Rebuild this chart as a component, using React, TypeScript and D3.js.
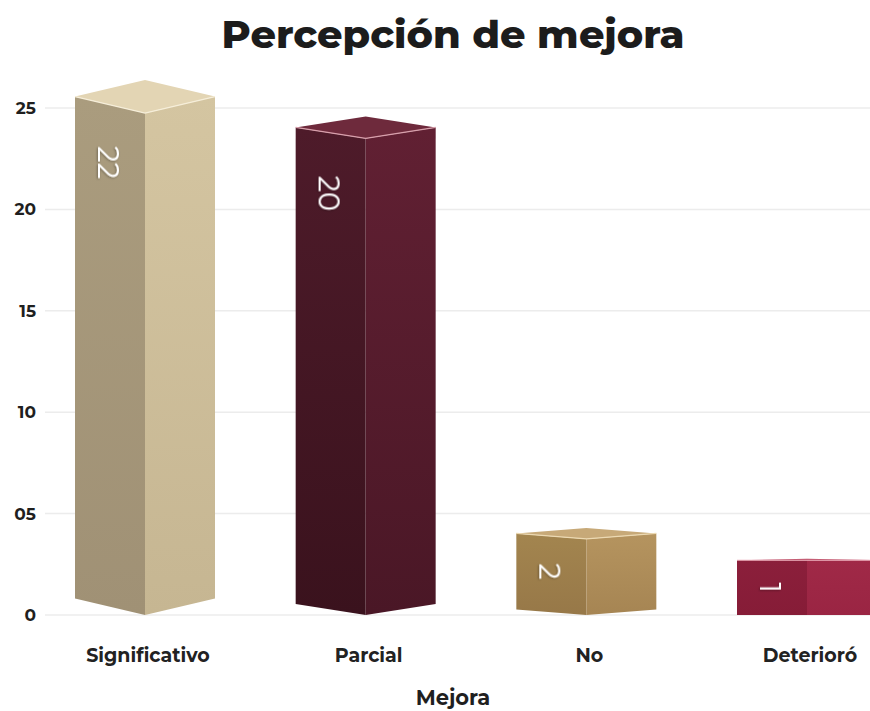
import React from "react";
import * as d3 from "d3";

// categories, shown counts, and bar heights as drawn against the axis
const categories = ["Significativo", "Parcial", "No", "Deterioró"];
const counts = [22, 20, 2, 1];
const heights = [24.75, 23.5, 3.75, 2.7];
const yTicks = [0, 5, 10, 15, 20, 25];
const tickLabels = ["0", "05", "10", "15", "20", "25"];

const palettes = [
  { l0: "#aa9c7e", l1: "#a09175", r0: "#d4c5a1", r1: "#c6b692", top: "#e3d5b4", edge: "#f6eed9" },
  { l0: "#4e1b2a", l1: "#3a121d", r0: "#612033", r1: "#4a1726", top: "#6e2a3c", edge: "#d8a0ac" },
  { l0: "#a3854f", l1: "#977848", r0: "#b5945f", r1: "#a68553", top: "#c7a978", edge: "#ecd9b2" },
  { l0: "#8b1f3b", l1: "#861c37", r0: "#a02947", r1: "#9a2543", top: "#b8465f", edge: "#eaa9b6" },
];

const W = 870;
const H = 711;
const font = "Montserrat, 'Noto Sans', 'Open Sans', sans-serif";

export default function App() {
  const y = d3.scaleLinear().domain([0, 25]).range([615, 108]);
  const x = d3.scalePoint<string>().domain(categories).range([145, 807]);
  const tilt = d3.scaleLinear().domain([145, 807]).range([16.5, 0]);
  const half = 70;
  const y0 = y(0);

  return (
    <svg
      width={W}
      height={H}
      style={{ position: "absolute", left: 0, top: 0, background: "#fff" }}
    >
      <defs>
        {palettes.map((p, i) => (
          <g key={i}>
            <linearGradient id={`gl${i}`} x1="0" y1="0" x2="0" y2="1">
              <stop offset="0%" stopColor={p.l0} />
              <stop offset="100%" stopColor={p.l1} />
            </linearGradient>
            <linearGradient id={`gr${i}`} x1="0" y1="0" x2="0" y2="1">
              <stop offset="0%" stopColor={p.r0} />
              <stop offset="100%" stopColor={p.r1} />
            </linearGradient>
          </g>
        ))}
        <filter id="shadow" x="-50%" y="-50%" width="200%" height="200%">
          <feDropShadow dx="0.8" dy="0.8" stdDeviation="0.8" floodColor="#000" floodOpacity="0.35" />
        </filter>
      </defs>

      <text
        x={453}
        y={48}
        textAnchor="middle"
        fontFamily={font}
        fontWeight={800}
        fontSize={38}
        fill="#1c1c1c"
        textLength={463}
        lengthAdjust="spacingAndGlyphs"
      >
        Percepción de mejora
      </text>

      {yTicks.map((t, i) => (
        <g key={t}>
          <line x1={45} x2={W} y1={y(t)} y2={y(t)} stroke="#ececec" strokeWidth={1.5} />
          <text
            x={36}
            y={y(t)}
            dy="0.35em"
            textAnchor="end"
            fontFamily={font}
            fontWeight={700}
            fontSize={17}
            fill="#1f1f1f"
          >
            {tickLabels[i]}
          </text>
        </g>
      ))}

      {categories.map((c, i) => {
        const cx = x(c)!;
        const t = tilt(cx);
        const yt = y(heights[i]);
        const p = palettes[i];
        const lx = cx - half;
        const rx = cx + half;
        const left = `M${lx},${yt - t}L${cx},${yt}L${cx},${y0}L${lx},${y0 - t}Z`;
        const right = `M${cx},${yt}L${rx},${yt - t}L${rx},${y0 - t}L${cx},${y0}Z`;
        const tb = Math.max(t, 1.5);
        const top = `M${lx},${yt - t}L${cx},${yt}L${rx},${yt - t}L${cx},${yt - t - tb}Z`;
        const edge = `M${lx},${yt - t}L${cx},${yt}L${rx},${yt - t}`;
        const labelY = Math.min(yt - t + 66, (yt - t + y0 - t) / 2);
        const labelX = cx - 37;
        return (
          <g key={c}>
            <path d={left} fill={`url(#gl${i})`} />
            <path d={right} fill={`url(#gr${i})`} />
            <path d={top} fill={p.top} />
            <path d={edge} fill="none" stroke={p.edge} strokeWidth={1.2} />
            <text
              transform={`translate(${labelX},${labelY}) rotate(90)`}
              textAnchor="middle"
              dy="0.35em"
              fontFamily={font}
              fontWeight={400}
              fontSize={29}
              fill="#ffffff"
              filter="url(#shadow)"
            >
              {counts[i]}
            </text>
            <text
              x={cx + 3}
              y={662}
              textAnchor="middle"
              fontFamily={font}
              fontWeight={700}
              fontSize={19}
              fill="#222"
            >
              {c}
            </text>
          </g>
        );
      })}

      <text
        x={453}
        y={705}
        textAnchor="middle"
        fontFamily={font}
        fontWeight={700}
        fontSize={21}
        fill="#1f1f1f"
      >
        Mejora
      </text>
    </svg>
  );
}
